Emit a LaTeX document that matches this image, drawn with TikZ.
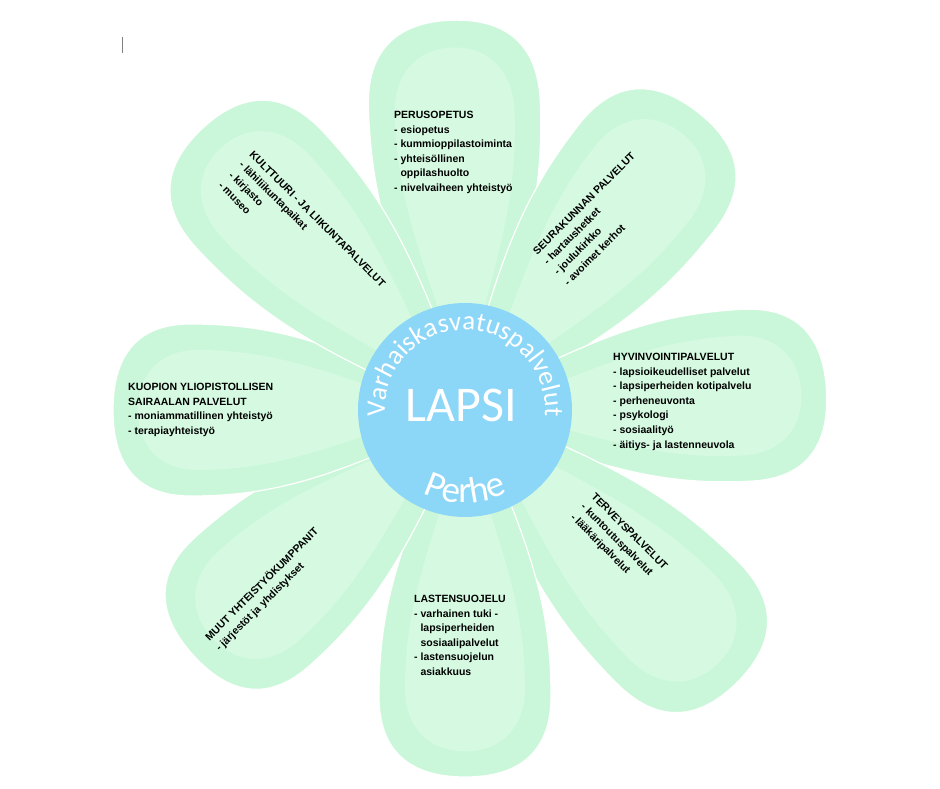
\documentclass[tikz,border=0pt]{standalone}
\usepackage{fontspec}
\setmainfont{Liberation Sans}
\newfontfamily\carlito{Carlito}
\usetikzlibrary{decorations.text}
\definecolor{leaf}{RGB}{202,247,217}
\definecolor{leaflight}{RGB}{213,250,225}
\definecolor{sky}{RGB}{140,214,248}

\begin{document}
\begin{tikzpicture}
      [x = 1pt, y = 1pt,
      petal/.style = {
         fill = leaf,
         draw = white,
         line width = 1.2pt
      },
      petalhi/.style = {
         fill = leaflight
      },
      hub/.style = {
         circle,
         fill = sky,
         inner sep = 0pt,
         minimum size = 214pt
      },
      txt/.style = {
         font = \bfseries\fontsize{10.5}{14.6}\selectfont,
         align = left,
         inner sep = 0pt,
         anchor = north west
      }]

      \fill[white] (0,0) rectangle (940,788);
      \useasboundingbox (0,0) rectangle (940,788);
      \coordinate (ctr) at (465,378);

      \draw[gray, line width = 1pt] (122,751) -- (122,735);

      \foreach \ang/\len in {92/390, 52/378, 3/362, -45/385, -90/367, -138/366, 180/352, 133/385} {
         \begin{scope}[shift = {(ctr)}, rotate = \ang]
            \path[petal] ({0.15*\len},-30) .. controls ({0.4*\len},-68) and ({0.55*\len},-86) .. ({0.78*\len},-86)
               .. controls ({0.93*\len},-86) and (\len,-55) .. (\len,0)
               .. controls (\len,55) and ({0.93*\len},86) .. ({0.78*\len},86)
               .. controls ({0.55*\len},86) and ({0.4*\len},68) .. ({0.15*\len},30) -- cycle;
            \path[petalhi] ({0.22*\len},-18) .. controls ({0.45*\len},-46) and ({0.58*\len},-60) .. ({0.76*\len},-60)
               .. controls ({0.86*\len},-60) and ({0.93*\len},-38) .. ({0.93*\len},0)
               .. controls ({0.93*\len},38) and ({0.86*\len},60) .. ({0.76*\len},60)
               .. controls ({0.58*\len},60) and ({0.45*\len},46) .. ({0.22*\len},18) -- cycle;
         \end{scope}
      }

      \node[txt] (perusopetus) at (394,677) {PERUSOPETUS\\- esiopetus\\- kummioppilastoiminta\\- yhteisöllinen\\\hspace*{0.6em}oppilashuolto\\- nivelvaiheen yhteistyö};
      \node[txt, rotate = -45] (kulttuuri) at (254,638) {KULTTUURI - JA LIIKUNTAPALVELUT\\- lähiliikuntapaikat\\- kirjasto\\- museo};
      \node[txt, rotate = 45] (seurakunta) at (532,538) {SEURAKUNNAN PALVELUT\\- hartaushetket\\- joulukirkko\\- avoimet kerhot};
      \node[txt] (hyvinvointi) at (613,435) {HYVINVOINTIPALVELUT\\- lapsioikeudelliset palvelut\\- lapsiperheiden kotipalvelu\\- perheneuvonta\\- psykologi\\- sosiaalityö\\- äitiys- ja lastenneuvola};
      \node[txt] (kuopio) at (128,405) {KUOPION YLIOPISTOLLISEN\\SAIRAALAN PALVELUT\\- moniammatillinen yhteistyö\\- terapiayhteistyö};
      \node[txt, rotate = -45] (terveys) at (596,296) {TERVEYSPALVELUT\\- kuntoutuspalvelut\\- lääkäripalvelut};
      \node[txt, rotate = 45] (muut) at (203,153) {MUUT YHTEISTYÖKUMPPANIT\\- järjestöt ja yhdistykset};
      \node[txt] (lastensuojelu) at (414,193) {LASTENSUOJELU\\- varhainen tuki -\\\hspace*{0.6em}lapsiperheiden\\\hspace*{0.6em}sosiaalipalvelut\\- lastensuojelun\\\hspace*{0.6em}asiakkuus};

      \node[hub] (hub) at (ctr) {};
      \node[font = \carlito\fontsize{50}{50}\selectfont, text = white] (lapsi) at (461,383) {LAPSI};

      \path[decorate, decoration = {text along path, text align = center,
         text = {|\carlito\fontsize{27}{27}\selectfont\color{white}|Varhaiskasvatuspalvelut}}]
         (ctr) ++(195:80pt) arc[start angle = 195, end angle = -15, radius = 80pt];
      \path[decorate, decoration = {text along path, text align = center,
         text = {|\carlito\fontsize{37}{37}\selectfont\color{white}|Perhe}}]
         (ctr) ++(-130:93pt) arc[start angle = -130, end angle = -50, radius = 93pt];

   \end{tikzpicture}
\end{document}
